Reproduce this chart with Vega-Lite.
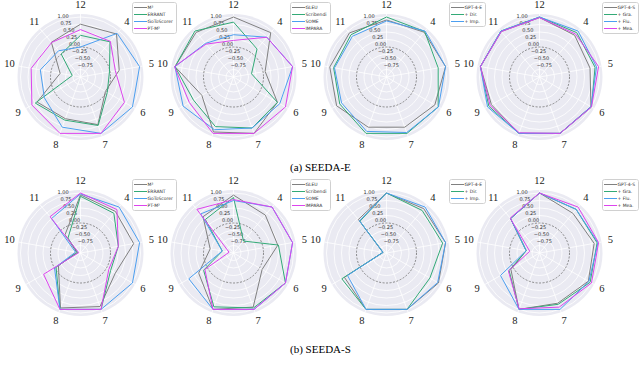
{
"$schema":"https://vega.github.io/schema/vega-lite/v6.json",
"autosize":{"type":"pad"},
"padding":{"left":4,"top":0,"right":0,"bottom":0},
"background":"white",
"bounds":"flush",
"columns":4,
"spacing":{"row":16,"column":0},
"config":{"view":{"stroke":null}},
"datasets":{
"frame":[{"k":"disc","v":1.1},
{"k":"grid","v":-0.75},{"k":"grid","v":-0.5},{"k":"grid","v":-0.25},{"k":"grid","v":0.25},{"k":"grid","v":0.5},{"k":"grid","v":0.75},{"k":"grid","v":1.0},
{"k":"dash","v":0},
{"k":"ax","a":"12"},{"k":"ax","a":"4"},{"k":"ax","a":"5"},{"k":"ax","a":"6"},{"k":"ax","a":"7"},{"k":"ax","a":"8"},{"k":"ax","a":"9"},{"k":"ax","a":"10"},{"k":"ax","a":"11"},
{"k":"rl","v":1.0,"txt":"1.00"},{"k":"rl","v":0.75,"txt":"0.75"},{"k":"rl","v":0.5,"txt":"0.50"},{"k":"rl","v":0.25,"txt":"0.25"},{"k":"rl","v":0,"txt":"0.00"},{"k":"rl","v":-0.25,"txt":"−0.25"},{"k":"rl","v":-0.5,"txt":"−0.50"},{"k":"rl","v":-0.75,"txt":"−0.75"}],
"ser":[
{"p":1,"s":"M²","a":"12","v":0.76},{"p":1,"s":"M²","a":"4","v":0.87},{"p":1,"s":"M²","a":"5","v":0.31},{"p":1,"s":"M²","a":"6","v":-0.04},{"p":1,"s":"M²","a":"7","v":0.69},{"p":1,"s":"M²","a":"8","v":0.48},{"p":1,"s":"M²","a":"9","v":0.67},{"p":1,"s":"M²","a":"10","v":-0.31},{"p":1,"s":"M²","a":"11","v":0.51},
{"p":1,"s":"ERRANT","a":"12","v":0.39},{"p":1,"s":"ERRANT","a":"4","v":0.53},{"p":1,"s":"ERRANT","a":"5","v":-0.02},{"p":1,"s":"ERRANT","a":"6","v":0.03},{"p":1,"s":"ERRANT","a":"7","v":0.72},{"p":1,"s":"ERRANT","a":"8","v":0.53},{"p":1,"s":"ERRANT","a":"9","v":0.74},{"p":1,"s":"ERRANT","a":"10","v":-0.72},{"p":1,"s":"ERRANT","a":"11","v":0.0},
{"p":1,"s":"GoToScorer","a":"12","v":0.0},{"p":1,"s":"GoToScorer","a":"4","v":0.9},{"p":1,"s":"GoToScorer","a":"5","v":1.0},{"p":1,"s":"GoToScorer","a":"6","v":1.0},{"p":1,"s":"GoToScorer","a":"7","v":1.0},{"p":1,"s":"GoToScorer","a":"8","v":0.78},{"p":1,"s":"GoToScorer","a":"9","v":0.39},{"p":1,"s":"GoToScorer","a":"10","v":0.36},{"p":1,"s":"GoToScorer","a":"11","v":0.14},
{"p":1,"s":"PT-M²","a":"12","v":0.58},{"p":1,"s":"PT-M²","a":"4","v":0.55},{"p":1,"s":"PT-M²","a":"5","v":0.18},{"p":1,"s":"PT-M²","a":"6","v":0.69},{"p":1,"s":"PT-M²","a":"7","v":1.0},{"p":1,"s":"PT-M²","a":"8","v":1.0},{"p":1,"s":"PT-M²","a":"9","v":0.87},{"p":1,"s":"PT-M²","a":"10","v":0.67},{"p":1,"s":"PT-M²","a":"11","v":0.5},
{"p":2,"s":"GLEU","a":"12","v":1.0},{"p":2,"s":"GLEU","a":"4","v":0.93},{"p":2,"s":"GLEU","a":"5","v":0.07},{"p":2,"s":"GLEU","a":"6","v":0.69},{"p":2,"s":"GLEU","a":"7","v":1.0},{"p":2,"s":"GLEU","a":"8","v":0.95},{"p":2,"s":"GLEU","a":"9","v":0.22},{"p":2,"s":"GLEU","a":"10","v":0.98},{"p":2,"s":"GLEU","a":"11","v":0.94},
{"p":2,"s":"Scribendi","a":"12","v":0.83},{"p":2,"s":"Scribendi","a":"4","v":0.22},{"p":2,"s":"Scribendi","a":"5","v":-0.39},{"p":2,"s":"Scribendi","a":"6","v":0.69},{"p":2,"s":"Scribendi","a":"7","v":0.81},{"p":2,"s":"Scribendi","a":"8","v":0.76},{"p":2,"s":"Scribendi","a":"9","v":0.54},{"p":2,"s":"Scribendi","a":"10","v":0.98},{"p":2,"s":"Scribendi","a":"11","v":1.0},
{"p":2,"s":"SOME","a":"12","v":0.41},{"p":2,"s":"SOME","a":"4","v":0.73},{"p":2,"s":"SOME","a":"5","v":1.0},{"p":2,"s":"SOME","a":"6","v":0.78},{"p":2,"s":"SOME","a":"7","v":0.81},{"p":2,"s":"SOME","a":"8","v":0.87},{"p":2,"s":"SOME","a":"9","v":0.94},{"p":2,"s":"SOME","a":"10","v":0.98},{"p":2,"s":"SOME","a":"11","v":0.46},
{"p":2,"s":"IMPARA","a":"12","v":0.22},{"p":2,"s":"IMPARA","a":"4","v":0.73},{"p":2,"s":"IMPARA","a":"5","v":1.0},{"p":2,"s":"IMPARA","a":"6","v":1.0},{"p":2,"s":"IMPARA","a":"7","v":1.0},{"p":2,"s":"IMPARA","a":"8","v":1.0},{"p":2,"s":"IMPARA","a":"9","v":0.7},{"p":2,"s":"IMPARA","a":"10","v":1.0},{"p":2,"s":"IMPARA","a":"11","v":0.43},
{"p":3,"s":"GPT-4-E","a":"12","v":0.9},{"p":3,"s":"GPT-4-E","a":"4","v":0.95},{"p":3,"s":"GPT-4-E","a":"5","v":1.0},{"p":3,"s":"GPT-4-E","a":"6","v":0.86},{"p":3,"s":"GPT-4-E","a":"7","v":0.78},{"p":3,"s":"GPT-4-E","a":"8","v":0.78},{"p":3,"s":"GPT-4-E","a":"9","v":0.92},{"p":3,"s":"GPT-4-E","a":"10","v":0.92},{"p":3,"s":"GPT-4-E","a":"11","v":0.92},
{"p":3,"s":"+ Dir.","a":"12","v":1.0},{"p":3,"s":"+ Dir.","a":"4","v":0.98},{"p":3,"s":"+ Dir.","a":"5","v":0.75},{"p":3,"s":"+ Dir.","a":"6","v":0.99},{"p":3,"s":"+ Dir.","a":"7","v":1.0},{"p":3,"s":"+ Dir.","a":"8","v":1.0},{"p":3,"s":"+ Dir.","a":"9","v":0.8},{"p":3,"s":"+ Dir.","a":"10","v":0.79},{"p":3,"s":"+ Dir.","a":"11","v":0.84},
{"p":3,"s":"+ Imp.","a":"12","v":0.87},{"p":3,"s":"+ Imp.","a":"4","v":1.0},{"p":3,"s":"+ Imp.","a":"5","v":1.0},{"p":3,"s":"+ Imp.","a":"6","v":1.0},{"p":3,"s":"+ Imp.","a":"7","v":0.97},{"p":3,"s":"+ Imp.","a":"8","v":0.93},{"p":3,"s":"+ Imp.","a":"9","v":0.73},{"p":3,"s":"+ Imp.","a":"10","v":0.76},{"p":3,"s":"+ Imp.","a":"11","v":0.77},
{"p":4,"s":"GPT-4-S","a":"12","v":0.98},{"p":4,"s":"GPT-4-S","a":"4","v":0.82},{"p":4,"s":"GPT-4-S","a":"5","v":0.71},{"p":4,"s":"GPT-4-S","a":"6","v":0.98},{"p":4,"s":"GPT-4-S","a":"7","v":1.0},{"p":4,"s":"GPT-4-S","a":"8","v":1.0},{"p":4,"s":"GPT-4-S","a":"9","v":0.85},{"p":4,"s":"GPT-4-S","a":"10","v":1.0},{"p":4,"s":"GPT-4-S","a":"11","v":0.98},
{"p":4,"s":"+ Gra.","a":"12","v":1.0},{"p":4,"s":"+ Gra.","a":"4","v":0.93},{"p":4,"s":"+ Gra.","a":"5","v":0.88},{"p":4,"s":"+ Gra.","a":"6","v":1.0},{"p":4,"s":"+ Gra.","a":"7","v":1.0},{"p":4,"s":"+ Gra.","a":"8","v":1.0},{"p":4,"s":"+ Gra.","a":"9","v":0.95},{"p":4,"s":"+ Gra.","a":"10","v":1.0},{"p":4,"s":"+ Gra.","a":"11","v":1.0},
{"p":4,"s":"+ Flu.","a":"12","v":1.0},{"p":4,"s":"+ Flu.","a":"4","v":1.0},{"p":4,"s":"+ Flu.","a":"5","v":0.93},{"p":4,"s":"+ Flu.","a":"6","v":0.98},{"p":4,"s":"+ Flu.","a":"7","v":1.0},{"p":4,"s":"+ Flu.","a":"8","v":1.0},{"p":4,"s":"+ Flu.","a":"9","v":1.0},{"p":4,"s":"+ Flu.","a":"10","v":1.0},{"p":4,"s":"+ Flu.","a":"11","v":1.0},
{"p":4,"s":"+ Mea.","a":"12","v":0.98},{"p":4,"s":"+ Mea.","a":"4","v":0.87},{"p":4,"s":"+ Mea.","a":"5","v":1.0},{"p":4,"s":"+ Mea.","a":"6","v":1.0},{"p":4,"s":"+ Mea.","a":"7","v":1.0},{"p":4,"s":"+ Mea.","a":"8","v":0.98},{"p":4,"s":"+ Mea.","a":"9","v":0.9},{"p":4,"s":"+ Mea.","a":"10","v":1.0},{"p":4,"s":"+ Mea.","a":"11","v":0.98},
{"p":5,"s":"M²","a":"12","v":0.94},{"p":5,"s":"M²","a":"4","v":0.81},{"p":5,"s":"M²","a":"5","v":0.8},{"p":5,"s":"M²","a":"6","v":0.34},{"p":5,"s":"M²","a":"7","v":0.9},{"p":5,"s":"M²","a":"8","v":0.95},{"p":5,"s":"M²","a":"9","v":-0.15},{"p":5,"s":"M²","a":"10","v":-0.87},{"p":5,"s":"M²","a":"11","v":-0.2},
{"p":5,"s":"ERRANT","a":"12","v":0.89},{"p":5,"s":"ERRANT","a":"4","v":0.73},{"p":5,"s":"ERRANT","a":"5","v":0.28},{"p":5,"s":"ERRANT","a":"6","v":0.16},{"p":5,"s":"ERRANT","a":"7","v":1.0},{"p":5,"s":"ERRANT","a":"8","v":1.0},{"p":5,"s":"ERRANT","a":"9","v":-0.06},{"p":5,"s":"ERRANT","a":"10","v":-0.9},{"p":5,"s":"ERRANT","a":"11","v":-0.35},
{"p":5,"s":"GoToScorer","a":"12","v":0.97},{"p":5,"s":"GoToScorer","a":"4","v":1.0},{"p":5,"s":"GoToScorer","a":"5","v":1.0},{"p":5,"s":"GoToScorer","a":"6","v":1.0},{"p":5,"s":"GoToScorer","a":"7","v":1.0},{"p":5,"s":"GoToScorer","a":"8","v":1.0},{"p":5,"s":"GoToScorer","a":"9","v":0.0},{"p":5,"s":"GoToScorer","a":"10","v":-0.83},{"p":5,"s":"GoToScorer","a":"11","v":0.5},
{"p":5,"s":"PT-M²","a":"12","v":1.0},{"p":5,"s":"PT-M²","a":"4","v":0.89},{"p":5,"s":"PT-M²","a":"5","v":0.28},{"p":5,"s":"PT-M²","a":"6","v":0.09},{"p":5,"s":"PT-M²","a":"7","v":1.0},{"p":5,"s":"PT-M²","a":"8","v":1.0},{"p":5,"s":"PT-M²","a":"9","v":0.42},{"p":5,"s":"PT-M²","a":"10","v":-0.94},{"p":5,"s":"PT-M²","a":"11","v":0.58},
{"p":6,"s":"GLEU","a":"12","v":0.93},{"p":6,"s":"GLEU","a":"4","v":0.65},{"p":6,"s":"GLEU","a":"5","v":0.5},{"p":6,"s":"GLEU","a":"6","v":0.1},{"p":6,"s":"GLEU","a":"7","v":0.92},{"p":6,"s":"GLEU","a":"8","v":1.0},{"p":6,"s":"GLEU","a":"9","v":0.34},{"p":6,"s":"GLEU","a":"10","v":-0.21},{"p":6,"s":"GLEU","a":"11","v":0.58},
{"p":6,"s":"Scribendi","a":"12","v":0.85},{"p":6,"s":"Scribendi","a":"4","v":-0.48},{"p":6,"s":"Scribendi","a":"5","v":0.52},{"p":6,"s":"Scribendi","a":"6","v":1.0},{"p":6,"s":"Scribendi","a":"7","v":0.95},{"p":6,"s":"Scribendi","a":"8","v":0.91},{"p":6,"s":"Scribendi","a":"9","v":0.15},{"p":6,"s":"Scribendi","a":"10","v":-0.62},{"p":6,"s":"Scribendi","a":"11","v":0.46},
{"p":6,"s":"SOME","a":"12","v":0.75},{"p":6,"s":"SOME","a":"4","v":1.0},{"p":6,"s":"SOME","a":"5","v":1.0},{"p":6,"s":"SOME","a":"6","v":1.0},{"p":6,"s":"SOME","a":"7","v":1.0},{"p":6,"s":"SOME","a":"8","v":1.0},{"p":6,"s":"SOME","a":"9","v":0.72},{"p":6,"s":"SOME","a":"10","v":-0.62},{"p":6,"s":"SOME","a":"11","v":0.7},
{"p":6,"s":"IMPARA","a":"12","v":0.78},{"p":6,"s":"IMPARA","a":"4","v":1.0},{"p":6,"s":"IMPARA","a":"5","v":1.0},{"p":6,"s":"IMPARA","a":"6","v":1.0},{"p":6,"s":"IMPARA","a":"7","v":1.0},{"p":6,"s":"IMPARA","a":"8","v":1.0},{"p":6,"s":"IMPARA","a":"9","v":0.1},{"p":6,"s":"IMPARA","a":"10","v":-0.85},{"p":6,"s":"IMPARA","a":"11","v":0.9},
{"p":7,"s":"GPT-4-E","a":"12","v":1.0},{"p":7,"s":"GPT-4-E","a":"4","v":0.93},{"p":7,"s":"GPT-4-E","a":"5","v":1.0},{"p":7,"s":"GPT-4-E","a":"6","v":1.0},{"p":7,"s":"GPT-4-E","a":"7","v":1.0},{"p":7,"s":"GPT-4-E","a":"8","v":1.0},{"p":7,"s":"GPT-4-E","a":"9","v":0.62},{"p":7,"s":"GPT-4-E","a":"10","v":-0.88},{"p":7,"s":"GPT-4-E","a":"11","v":0.46},
{"p":7,"s":"+ Dir.","a":"12","v":1.0},{"p":7,"s":"+ Dir.","a":"4","v":0.85},{"p":7,"s":"+ Dir.","a":"5","v":0.9},{"p":7,"s":"+ Dir.","a":"6","v":0.67},{"p":7,"s":"+ Dir.","a":"7","v":1.0},{"p":7,"s":"+ Dir.","a":"8","v":1.0},{"p":7,"s":"+ Dir.","a":"9","v":0.72},{"p":7,"s":"+ Dir.","a":"10","v":-0.88},{"p":7,"s":"+ Dir.","a":"11","v":0.38},
{"p":7,"s":"+ Imp.","a":"12","v":1.0},{"p":7,"s":"+ Imp.","a":"4","v":1.0},{"p":7,"s":"+ Imp.","a":"5","v":1.0},{"p":7,"s":"+ Imp.","a":"6","v":0.97},{"p":7,"s":"+ Imp.","a":"7","v":1.0},{"p":7,"s":"+ Imp.","a":"8","v":1.0},{"p":7,"s":"+ Imp.","a":"9","v":0.5},{"p":7,"s":"+ Imp.","a":"10","v":-0.88},{"p":7,"s":"+ Imp.","a":"11","v":0.4},
{"p":8,"s":"GPT-4-S","a":"12","v":1.0},{"p":8,"s":"GPT-4-S","a":"4","v":0.73},{"p":8,"s":"GPT-4-S","a":"5","v":0.85},{"p":8,"s":"GPT-4-S","a":"6","v":0.88},{"p":8,"s":"GPT-4-S","a":"7","v":0.78},{"p":8,"s":"GPT-4-S","a":"8","v":1.0},{"p":8,"s":"GPT-4-S","a":"9","v":0.1},{"p":8,"s":"GPT-4-S","a":"10","v":-0.55},{"p":8,"s":"GPT-4-S","a":"11","v":0.5},
{"p":8,"s":"+ Gra.","a":"12","v":1.0},{"p":8,"s":"+ Gra.","a":"4","v":0.9},{"p":8,"s":"+ Gra.","a":"5","v":0.95},{"p":8,"s":"+ Gra.","a":"6","v":0.95},{"p":8,"s":"+ Gra.","a":"7","v":0.82},{"p":8,"s":"+ Gra.","a":"8","v":1.0},{"p":8,"s":"+ Gra.","a":"9","v":0.17},{"p":8,"s":"+ Gra.","a":"10","v":-0.55},{"p":8,"s":"+ Gra.","a":"11","v":0.5},
{"p":8,"s":"+ Flu.","a":"12","v":1.0},{"p":8,"s":"+ Flu.","a":"4","v":0.9},{"p":8,"s":"+ Flu.","a":"5","v":0.98},{"p":8,"s":"+ Flu.","a":"6","v":0.9},{"p":8,"s":"+ Flu.","a":"7","v":1.0},{"p":8,"s":"+ Flu.","a":"8","v":1.0},{"p":8,"s":"+ Flu.","a":"9","v":0.5},{"p":8,"s":"+ Flu.","a":"10","v":-0.55},{"p":8,"s":"+ Flu.","a":"11","v":0.5},
{"p":8,"s":"+ Mea.","a":"12","v":1.0},{"p":8,"s":"+ Mea.","a":"4","v":1.0},{"p":8,"s":"+ Mea.","a":"5","v":1.0},{"p":8,"s":"+ Mea.","a":"6","v":1.0},{"p":8,"s":"+ Mea.","a":"7","v":0.92},{"p":8,"s":"+ Mea.","a":"8","v":0.98},{"p":8,"s":"+ Mea.","a":"9","v":0.2},{"p":8,"s":"+ Mea.","a":"10","v":-0.67},{"p":8,"s":"+ Mea.","a":"11","v":0.52}
]},
"resolve":{"scale":{"color":"independent","size":"independent","x":"independent","y":"independent"},"legend":{"color":"independent"}},
"concat":[
{"width":153,"height":160,"data":{"name":"frame"},
"encoding":{"x":{"field":"x","type":"quantitative","scale":{"domain":[-2.55,2.55],"nice":false,"zero":false},"axis":null},"y":{"field":"y","type":"quantitative","scale":{"domain":[-2.767,2.567],"nice":false,"zero":false},"axis":null}},
"layer":[
{"transform":[{"filter":"datum.k=='disc'"},{"calculate":"0","as":"x"},{"calculate":"0","as":"y"},{"calculate":"datum.v+1","as":"r"}],"mark":{"type":"point","shape":"circle","filled":true,"color":"#eaeaf2","opacity":1,"strokeWidth":0},"encoding":{"size":{"field":"r","type":"quantitative","scale":{"type":"pow","exponent":2,"domain":[0,2.1],"range":[0,15876]},"legend":null}}},
{"transform":[{"filter":"datum.k=='grid'"},{"calculate":"0","as":"x"},{"calculate":"0","as":"y"},{"calculate":"datum.v+1","as":"r"}],"mark":{"type":"point","shape":"circle","filled":false,"color":"#ffffff","opacity":1,"strokeWidth":0.8},"encoding":{"size":{"field":"r","type":"quantitative","scale":{"type":"pow","exponent":2,"domain":[0,2.1],"range":[0,15876]},"legend":null}}},
{"transform":[{"filter":"datum.k=='ax'"},{"calculate":"indexof(['12','4','5','6','7','8','9','10','11'],datum.a)*40*PI/180","as":"t"},{"calculate":"0","as":"x"},{"calculate":"0","as":"y"},{"calculate":"2.1*sin(datum.t)","as":"x2"},{"calculate":"2.1*cos(datum.t)","as":"y2"}],"mark":{"type":"rule","color":"#ffffff","strokeWidth":0.8},"encoding":{"x2":{"field":"x2"},"y2":{"field":"y2"}}},
{"transform":[{"filter":"datum.k=='dash'"},{"calculate":"0","as":"x"},{"calculate":"0","as":"y"},{"calculate":"datum.v+1","as":"r"}],"mark":{"type":"point","shape":"circle","filled":false,"color":"#6f6f6f","opacity":1,"strokeWidth":0.8,"strokeDash":[2,1.5]},"encoding":{"size":{"field":"r","type":"quantitative","scale":{"type":"pow","exponent":2,"domain":[0,2.1],"range":[0,15876]},"legend":null}}},
{"transform":[{"filter":"datum.k=='rl'"},{"calculate":"-(datum.v+1)*0.3827","as":"x"},{"calculate":"(datum.v+1)*0.9239","as":"y"}],"mark":{"type":"text","align":"left","baseline":"bottom","dy":-2.5,"font":"DejaVu Sans","fontSize":5,"color":"#333333"},"encoding":{"text":{"field":"txt"}}},
{"data":{"name":"ser"},"transform":[{"filter":"datum.p==1"},{"calculate":"indexof(['12','4','5','6','7','8','9','10','11'],datum.a)*40*PI/180","as":"t"},{"calculate":"(datum.v+1)*sin(datum.t)","as":"x"},{"calculate":"(datum.v+1)*cos(datum.t)","as":"y"}],"mark":{"type":"line","interpolate":"linear-closed","strokeWidth":1},"encoding":{"order":{"field":"t","type":"quantitative"},"color":{"field":"s","type":"nominal","scale":{"domain":["M²","ERRANT","GoToScorer","PT-M²"],"range":["#808080","#33aa77","#4c9ff0","#dd44ee"]},"legend":{"orient":"none","legendX":128,"legendY":2,"title":null,"symbolType":"M-2.6,0H2.6","symbolSize":25,"symbolStrokeWidth":1,"symbolOffset":3,"labelOffset":4,"labelFontSize":4.5,"labelFont":"DejaVu Sans","labelColor":"#333333","fillColor":"#ffffff","strokeColor":"#d0d0d0","padding":2.5,"rowPadding":2,"cornerRadius":2}}}},
{"transform":[{"filter":"datum.k=='ax'"},{"calculate":"indexof(['12','4','5','6','7','8','9','10','11'],datum.a)*40*PI/180","as":"t"},{"calculate":"2.4*sin(datum.t)","as":"x"},{"calculate":"2.4*cos(datum.t)","as":"y"}],"mark":{"type":"text","font":"Liberation Serif","fontSize":10.5,"color":"#222222","align":"center","baseline":"middle"},"encoding":{"text":{"field":"a"}}}
]},
{"width":153,"height":160,"data":{"name":"frame"},
"encoding":{"x":{"field":"x","type":"quantitative","scale":{"domain":[-2.55,2.55],"nice":false,"zero":false},"axis":null},"y":{"field":"y","type":"quantitative","scale":{"domain":[-2.767,2.567],"nice":false,"zero":false},"axis":null}},
"layer":[
{"transform":[{"filter":"datum.k=='disc'"},{"calculate":"0","as":"x"},{"calculate":"0","as":"y"},{"calculate":"datum.v+1","as":"r"}],"mark":{"type":"point","shape":"circle","filled":true,"color":"#eaeaf2","opacity":1,"strokeWidth":0},"encoding":{"size":{"field":"r","type":"quantitative","scale":{"type":"pow","exponent":2,"domain":[0,2.1],"range":[0,15876]},"legend":null}}},
{"transform":[{"filter":"datum.k=='grid'"},{"calculate":"0","as":"x"},{"calculate":"0","as":"y"},{"calculate":"datum.v+1","as":"r"}],"mark":{"type":"point","shape":"circle","filled":false,"color":"#ffffff","opacity":1,"strokeWidth":0.8},"encoding":{"size":{"field":"r","type":"quantitative","scale":{"type":"pow","exponent":2,"domain":[0,2.1],"range":[0,15876]},"legend":null}}},
{"transform":[{"filter":"datum.k=='ax'"},{"calculate":"indexof(['12','4','5','6','7','8','9','10','11'],datum.a)*40*PI/180","as":"t"},{"calculate":"0","as":"x"},{"calculate":"0","as":"y"},{"calculate":"2.1*sin(datum.t)","as":"x2"},{"calculate":"2.1*cos(datum.t)","as":"y2"}],"mark":{"type":"rule","color":"#ffffff","strokeWidth":0.8},"encoding":{"x2":{"field":"x2"},"y2":{"field":"y2"}}},
{"transform":[{"filter":"datum.k=='dash'"},{"calculate":"0","as":"x"},{"calculate":"0","as":"y"},{"calculate":"datum.v+1","as":"r"}],"mark":{"type":"point","shape":"circle","filled":false,"color":"#6f6f6f","opacity":1,"strokeWidth":0.8,"strokeDash":[2,1.5]},"encoding":{"size":{"field":"r","type":"quantitative","scale":{"type":"pow","exponent":2,"domain":[0,2.1],"range":[0,15876]},"legend":null}}},
{"transform":[{"filter":"datum.k=='rl'"},{"calculate":"-(datum.v+1)*0.3827","as":"x"},{"calculate":"(datum.v+1)*0.9239","as":"y"}],"mark":{"type":"text","align":"left","baseline":"bottom","dy":-2.5,"font":"DejaVu Sans","fontSize":5,"color":"#333333"},"encoding":{"text":{"field":"txt"}}},
{"data":{"name":"ser"},"transform":[{"filter":"datum.p==2"},{"calculate":"indexof(['12','4','5','6','7','8','9','10','11'],datum.a)*40*PI/180","as":"t"},{"calculate":"(datum.v+1)*sin(datum.t)","as":"x"},{"calculate":"(datum.v+1)*cos(datum.t)","as":"y"}],"mark":{"type":"line","interpolate":"linear-closed","strokeWidth":1},"encoding":{"order":{"field":"t","type":"quantitative"},"color":{"field":"s","type":"nominal","scale":{"domain":["GLEU","Scribendi","SOME","IMPARA"],"range":["#808080","#33aa77","#4c9ff0","#dd44ee"]},"legend":{"orient":"none","legendX":133,"legendY":2,"title":null,"symbolType":"M-2.6,0H2.6","symbolSize":25,"symbolStrokeWidth":1,"symbolOffset":3,"labelOffset":4,"labelFontSize":4.5,"labelFont":"DejaVu Sans","labelColor":"#333333","fillColor":"#ffffff","strokeColor":"#d0d0d0","padding":2.5,"rowPadding":2,"cornerRadius":2}}}},
{"transform":[{"filter":"datum.k=='ax'"},{"calculate":"indexof(['12','4','5','6','7','8','9','10','11'],datum.a)*40*PI/180","as":"t"},{"calculate":"2.4*sin(datum.t)","as":"x"},{"calculate":"2.4*cos(datum.t)","as":"y"}],"mark":{"type":"text","font":"Liberation Serif","fontSize":10.5,"color":"#222222","align":"center","baseline":"middle"},"encoding":{"text":{"field":"a"}}}
]},
{"width":153,"height":160,"data":{"name":"frame"},
"title":{"text":"(a) SEEDA-E","orient":"bottom","anchor":"start","dx":-20,"offset":2,"font":"Liberation Serif","fontSize":11,"fontWeight":"normal","color":"#000000"},
"encoding":{"x":{"field":"x","type":"quantitative","scale":{"domain":[-2.55,2.55],"nice":false,"zero":false},"axis":null},"y":{"field":"y","type":"quantitative","scale":{"domain":[-2.767,2.567],"nice":false,"zero":false},"axis":null}},
"layer":[
{"transform":[{"filter":"datum.k=='disc'"},{"calculate":"0","as":"x"},{"calculate":"0","as":"y"},{"calculate":"datum.v+1","as":"r"}],"mark":{"type":"point","shape":"circle","filled":true,"color":"#eaeaf2","opacity":1,"strokeWidth":0},"encoding":{"size":{"field":"r","type":"quantitative","scale":{"type":"pow","exponent":2,"domain":[0,2.1],"range":[0,15876]},"legend":null}}},
{"transform":[{"filter":"datum.k=='grid'"},{"calculate":"0","as":"x"},{"calculate":"0","as":"y"},{"calculate":"datum.v+1","as":"r"}],"mark":{"type":"point","shape":"circle","filled":false,"color":"#ffffff","opacity":1,"strokeWidth":0.8},"encoding":{"size":{"field":"r","type":"quantitative","scale":{"type":"pow","exponent":2,"domain":[0,2.1],"range":[0,15876]},"legend":null}}},
{"transform":[{"filter":"datum.k=='ax'"},{"calculate":"indexof(['12','4','5','6','7','8','9','10','11'],datum.a)*40*PI/180","as":"t"},{"calculate":"0","as":"x"},{"calculate":"0","as":"y"},{"calculate":"2.1*sin(datum.t)","as":"x2"},{"calculate":"2.1*cos(datum.t)","as":"y2"}],"mark":{"type":"rule","color":"#ffffff","strokeWidth":0.8},"encoding":{"x2":{"field":"x2"},"y2":{"field":"y2"}}},
{"transform":[{"filter":"datum.k=='dash'"},{"calculate":"0","as":"x"},{"calculate":"0","as":"y"},{"calculate":"datum.v+1","as":"r"}],"mark":{"type":"point","shape":"circle","filled":false,"color":"#6f6f6f","opacity":1,"strokeWidth":0.8,"strokeDash":[2,1.5]},"encoding":{"size":{"field":"r","type":"quantitative","scale":{"type":"pow","exponent":2,"domain":[0,2.1],"range":[0,15876]},"legend":null}}},
{"transform":[{"filter":"datum.k=='rl'"},{"calculate":"-(datum.v+1)*0.3827","as":"x"},{"calculate":"(datum.v+1)*0.9239","as":"y"}],"mark":{"type":"text","align":"left","baseline":"bottom","dy":-2.5,"font":"DejaVu Sans","fontSize":5,"color":"#333333"},"encoding":{"text":{"field":"txt"}}},
{"data":{"name":"ser"},"transform":[{"filter":"datum.p==3"},{"calculate":"indexof(['12','4','5','6','7','8','9','10','11'],datum.a)*40*PI/180","as":"t"},{"calculate":"(datum.v+1)*sin(datum.t)","as":"x"},{"calculate":"(datum.v+1)*cos(datum.t)","as":"y"}],"mark":{"type":"line","interpolate":"linear-closed","strokeWidth":1},"encoding":{"order":{"field":"t","type":"quantitative"},"color":{"field":"s","type":"nominal","scale":{"domain":["GPT-4-E","+ Dir.","+ Imp."],"range":["#808080","#33aa77","#4c9ff0"]},"legend":{"orient":"none","legendX":139,"legendY":2,"title":null,"symbolType":"M-2.6,0H2.6","symbolSize":25,"symbolStrokeWidth":1,"symbolOffset":3,"labelOffset":4,"labelFontSize":4.5,"labelFont":"DejaVu Sans","labelColor":"#333333","fillColor":"#ffffff","strokeColor":"#d0d0d0","padding":2.5,"rowPadding":2,"cornerRadius":2}}}},
{"transform":[{"filter":"datum.k=='ax'"},{"calculate":"indexof(['12','4','5','6','7','8','9','10','11'],datum.a)*40*PI/180","as":"t"},{"calculate":"2.4*sin(datum.t)","as":"x"},{"calculate":"2.4*cos(datum.t)","as":"y"}],"mark":{"type":"text","font":"Liberation Serif","fontSize":10.5,"color":"#222222","align":"center","baseline":"middle"},"encoding":{"text":{"field":"a"}}}
]},
{"width":153,"height":160,"data":{"name":"frame"},
"encoding":{"x":{"field":"x","type":"quantitative","scale":{"domain":[-2.55,2.55],"nice":false,"zero":false},"axis":null},"y":{"field":"y","type":"quantitative","scale":{"domain":[-2.767,2.567],"nice":false,"zero":false},"axis":null}},
"layer":[
{"transform":[{"filter":"datum.k=='disc'"},{"calculate":"0","as":"x"},{"calculate":"0","as":"y"},{"calculate":"datum.v+1","as":"r"}],"mark":{"type":"point","shape":"circle","filled":true,"color":"#eaeaf2","opacity":1,"strokeWidth":0},"encoding":{"size":{"field":"r","type":"quantitative","scale":{"type":"pow","exponent":2,"domain":[0,2.1],"range":[0,15876]},"legend":null}}},
{"transform":[{"filter":"datum.k=='grid'"},{"calculate":"0","as":"x"},{"calculate":"0","as":"y"},{"calculate":"datum.v+1","as":"r"}],"mark":{"type":"point","shape":"circle","filled":false,"color":"#ffffff","opacity":1,"strokeWidth":0.8},"encoding":{"size":{"field":"r","type":"quantitative","scale":{"type":"pow","exponent":2,"domain":[0,2.1],"range":[0,15876]},"legend":null}}},
{"transform":[{"filter":"datum.k=='ax'"},{"calculate":"indexof(['12','4','5','6','7','8','9','10','11'],datum.a)*40*PI/180","as":"t"},{"calculate":"0","as":"x"},{"calculate":"0","as":"y"},{"calculate":"2.1*sin(datum.t)","as":"x2"},{"calculate":"2.1*cos(datum.t)","as":"y2"}],"mark":{"type":"rule","color":"#ffffff","strokeWidth":0.8},"encoding":{"x2":{"field":"x2"},"y2":{"field":"y2"}}},
{"transform":[{"filter":"datum.k=='dash'"},{"calculate":"0","as":"x"},{"calculate":"0","as":"y"},{"calculate":"datum.v+1","as":"r"}],"mark":{"type":"point","shape":"circle","filled":false,"color":"#6f6f6f","opacity":1,"strokeWidth":0.8,"strokeDash":[2,1.5]},"encoding":{"size":{"field":"r","type":"quantitative","scale":{"type":"pow","exponent":2,"domain":[0,2.1],"range":[0,15876]},"legend":null}}},
{"transform":[{"filter":"datum.k=='rl'"},{"calculate":"-(datum.v+1)*0.3827","as":"x"},{"calculate":"(datum.v+1)*0.9239","as":"y"}],"mark":{"type":"text","align":"left","baseline":"bottom","dy":-2.5,"font":"DejaVu Sans","fontSize":5,"color":"#333333"},"encoding":{"text":{"field":"txt"}}},
{"data":{"name":"ser"},"transform":[{"filter":"datum.p==4"},{"calculate":"indexof(['12','4','5','6','7','8','9','10','11'],datum.a)*40*PI/180","as":"t"},{"calculate":"(datum.v+1)*sin(datum.t)","as":"x"},{"calculate":"(datum.v+1)*cos(datum.t)","as":"y"}],"mark":{"type":"line","interpolate":"linear-closed","strokeWidth":1},"encoding":{"order":{"field":"t","type":"quantitative"},"color":{"field":"s","type":"nominal","scale":{"domain":["GPT-4-S","+ Gra.","+ Flu.","+ Mea."],"range":["#808080","#33aa77","#4c9ff0","#dd44ee"]},"legend":{"orient":"none","legendX":139,"legendY":2,"title":null,"symbolType":"M-2.6,0H2.6","symbolSize":25,"symbolStrokeWidth":1,"symbolOffset":3,"labelOffset":4,"labelFontSize":4.5,"labelFont":"DejaVu Sans","labelColor":"#333333","fillColor":"#ffffff","strokeColor":"#d0d0d0","padding":2.5,"rowPadding":2,"cornerRadius":2}}}},
{"transform":[{"filter":"datum.k=='ax'"},{"calculate":"indexof(['12','4','5','6','7','8','9','10','11'],datum.a)*40*PI/180","as":"t"},{"calculate":"2.4*sin(datum.t)","as":"x"},{"calculate":"2.4*cos(datum.t)","as":"y"}],"mark":{"type":"text","font":"Liberation Serif","fontSize":10.5,"color":"#222222","align":"center","baseline":"middle"},"encoding":{"text":{"field":"a"}}}
]},
{"width":153,"height":160,"data":{"name":"frame"},
"encoding":{"x":{"field":"x","type":"quantitative","scale":{"domain":[-2.55,2.55],"nice":false,"zero":false},"axis":null},"y":{"field":"y","type":"quantitative","scale":{"domain":[-2.767,2.567],"nice":false,"zero":false},"axis":null}},
"layer":[
{"transform":[{"filter":"datum.k=='disc'"},{"calculate":"0","as":"x"},{"calculate":"0","as":"y"},{"calculate":"datum.v+1","as":"r"}],"mark":{"type":"point","shape":"circle","filled":true,"color":"#eaeaf2","opacity":1,"strokeWidth":0},"encoding":{"size":{"field":"r","type":"quantitative","scale":{"type":"pow","exponent":2,"domain":[0,2.1],"range":[0,15876]},"legend":null}}},
{"transform":[{"filter":"datum.k=='grid'"},{"calculate":"0","as":"x"},{"calculate":"0","as":"y"},{"calculate":"datum.v+1","as":"r"}],"mark":{"type":"point","shape":"circle","filled":false,"color":"#ffffff","opacity":1,"strokeWidth":0.8},"encoding":{"size":{"field":"r","type":"quantitative","scale":{"type":"pow","exponent":2,"domain":[0,2.1],"range":[0,15876]},"legend":null}}},
{"transform":[{"filter":"datum.k=='ax'"},{"calculate":"indexof(['12','4','5','6','7','8','9','10','11'],datum.a)*40*PI/180","as":"t"},{"calculate":"0","as":"x"},{"calculate":"0","as":"y"},{"calculate":"2.1*sin(datum.t)","as":"x2"},{"calculate":"2.1*cos(datum.t)","as":"y2"}],"mark":{"type":"rule","color":"#ffffff","strokeWidth":0.8},"encoding":{"x2":{"field":"x2"},"y2":{"field":"y2"}}},
{"transform":[{"filter":"datum.k=='dash'"},{"calculate":"0","as":"x"},{"calculate":"0","as":"y"},{"calculate":"datum.v+1","as":"r"}],"mark":{"type":"point","shape":"circle","filled":false,"color":"#6f6f6f","opacity":1,"strokeWidth":0.8,"strokeDash":[2,1.5]},"encoding":{"size":{"field":"r","type":"quantitative","scale":{"type":"pow","exponent":2,"domain":[0,2.1],"range":[0,15876]},"legend":null}}},
{"transform":[{"filter":"datum.k=='rl'"},{"calculate":"-(datum.v+1)*0.3827","as":"x"},{"calculate":"(datum.v+1)*0.9239","as":"y"}],"mark":{"type":"text","align":"left","baseline":"bottom","dy":-2.5,"font":"DejaVu Sans","fontSize":5,"color":"#333333"},"encoding":{"text":{"field":"txt"}}},
{"data":{"name":"ser"},"transform":[{"filter":"datum.p==5"},{"calculate":"indexof(['12','4','5','6','7','8','9','10','11'],datum.a)*40*PI/180","as":"t"},{"calculate":"(datum.v+1)*sin(datum.t)","as":"x"},{"calculate":"(datum.v+1)*cos(datum.t)","as":"y"}],"mark":{"type":"line","interpolate":"linear-closed","strokeWidth":1},"encoding":{"order":{"field":"t","type":"quantitative"},"color":{"field":"s","type":"nominal","scale":{"domain":["M²","ERRANT","GoToScorer","PT-M²"],"range":["#808080","#33aa77","#4c9ff0","#dd44ee"]},"legend":{"orient":"none","legendX":128,"legendY":3,"title":null,"symbolType":"M-2.6,0H2.6","symbolSize":25,"symbolStrokeWidth":1,"symbolOffset":3,"labelOffset":4,"labelFontSize":4.5,"labelFont":"DejaVu Sans","labelColor":"#333333","fillColor":"#ffffff","strokeColor":"#d0d0d0","padding":2.5,"rowPadding":2,"cornerRadius":2}}}},
{"transform":[{"filter":"datum.k=='ax'"},{"calculate":"indexof(['12','4','5','6','7','8','9','10','11'],datum.a)*40*PI/180","as":"t"},{"calculate":"2.4*sin(datum.t)","as":"x"},{"calculate":"2.4*cos(datum.t)","as":"y"}],"mark":{"type":"text","font":"Liberation Serif","fontSize":10.5,"color":"#222222","align":"center","baseline":"middle"},"encoding":{"text":{"field":"a"}}}
]},
{"width":153,"height":160,"data":{"name":"frame"},
"encoding":{"x":{"field":"x","type":"quantitative","scale":{"domain":[-2.55,2.55],"nice":false,"zero":false},"axis":null},"y":{"field":"y","type":"quantitative","scale":{"domain":[-2.767,2.567],"nice":false,"zero":false},"axis":null}},
"layer":[
{"transform":[{"filter":"datum.k=='disc'"},{"calculate":"0","as":"x"},{"calculate":"0","as":"y"},{"calculate":"datum.v+1","as":"r"}],"mark":{"type":"point","shape":"circle","filled":true,"color":"#eaeaf2","opacity":1,"strokeWidth":0},"encoding":{"size":{"field":"r","type":"quantitative","scale":{"type":"pow","exponent":2,"domain":[0,2.1],"range":[0,15876]},"legend":null}}},
{"transform":[{"filter":"datum.k=='grid'"},{"calculate":"0","as":"x"},{"calculate":"0","as":"y"},{"calculate":"datum.v+1","as":"r"}],"mark":{"type":"point","shape":"circle","filled":false,"color":"#ffffff","opacity":1,"strokeWidth":0.8},"encoding":{"size":{"field":"r","type":"quantitative","scale":{"type":"pow","exponent":2,"domain":[0,2.1],"range":[0,15876]},"legend":null}}},
{"transform":[{"filter":"datum.k=='ax'"},{"calculate":"indexof(['12','4','5','6','7','8','9','10','11'],datum.a)*40*PI/180","as":"t"},{"calculate":"0","as":"x"},{"calculate":"0","as":"y"},{"calculate":"2.1*sin(datum.t)","as":"x2"},{"calculate":"2.1*cos(datum.t)","as":"y2"}],"mark":{"type":"rule","color":"#ffffff","strokeWidth":0.8},"encoding":{"x2":{"field":"x2"},"y2":{"field":"y2"}}},
{"transform":[{"filter":"datum.k=='dash'"},{"calculate":"0","as":"x"},{"calculate":"0","as":"y"},{"calculate":"datum.v+1","as":"r"}],"mark":{"type":"point","shape":"circle","filled":false,"color":"#6f6f6f","opacity":1,"strokeWidth":0.8,"strokeDash":[2,1.5]},"encoding":{"size":{"field":"r","type":"quantitative","scale":{"type":"pow","exponent":2,"domain":[0,2.1],"range":[0,15876]},"legend":null}}},
{"transform":[{"filter":"datum.k=='rl'"},{"calculate":"-(datum.v+1)*0.3827","as":"x"},{"calculate":"(datum.v+1)*0.9239","as":"y"}],"mark":{"type":"text","align":"left","baseline":"bottom","dy":-2.5,"font":"DejaVu Sans","fontSize":5,"color":"#333333"},"encoding":{"text":{"field":"txt"}}},
{"data":{"name":"ser"},"transform":[{"filter":"datum.p==6"},{"calculate":"indexof(['12','4','5','6','7','8','9','10','11'],datum.a)*40*PI/180","as":"t"},{"calculate":"(datum.v+1)*sin(datum.t)","as":"x"},{"calculate":"(datum.v+1)*cos(datum.t)","as":"y"}],"mark":{"type":"line","interpolate":"linear-closed","strokeWidth":1},"encoding":{"order":{"field":"t","type":"quantitative"},"color":{"field":"s","type":"nominal","scale":{"domain":["GLEU","Scribendi","SOME","IMPARA"],"range":["#808080","#33aa77","#4c9ff0","#dd44ee"]},"legend":{"orient":"none","legendX":133,"legendY":3,"title":null,"symbolType":"M-2.6,0H2.6","symbolSize":25,"symbolStrokeWidth":1,"symbolOffset":3,"labelOffset":4,"labelFontSize":4.5,"labelFont":"DejaVu Sans","labelColor":"#333333","fillColor":"#ffffff","strokeColor":"#d0d0d0","padding":2.5,"rowPadding":2,"cornerRadius":2}}}},
{"transform":[{"filter":"datum.k=='ax'"},{"calculate":"indexof(['12','4','5','6','7','8','9','10','11'],datum.a)*40*PI/180","as":"t"},{"calculate":"2.4*sin(datum.t)","as":"x"},{"calculate":"2.4*cos(datum.t)","as":"y"}],"mark":{"type":"text","font":"Liberation Serif","fontSize":10.5,"color":"#222222","align":"center","baseline":"middle"},"encoding":{"text":{"field":"a"}}}
]},
{"width":153,"height":160,"data":{"name":"frame"},
"title":{"text":"(b) SEEDA-S","orient":"bottom","anchor":"start","dx":-20,"offset":8,"font":"Liberation Serif","fontSize":11,"fontWeight":"normal","color":"#000000"},
"encoding":{"x":{"field":"x","type":"quantitative","scale":{"domain":[-2.55,2.55],"nice":false,"zero":false},"axis":null},"y":{"field":"y","type":"quantitative","scale":{"domain":[-2.767,2.567],"nice":false,"zero":false},"axis":null}},
"layer":[
{"transform":[{"filter":"datum.k=='disc'"},{"calculate":"0","as":"x"},{"calculate":"0","as":"y"},{"calculate":"datum.v+1","as":"r"}],"mark":{"type":"point","shape":"circle","filled":true,"color":"#eaeaf2","opacity":1,"strokeWidth":0},"encoding":{"size":{"field":"r","type":"quantitative","scale":{"type":"pow","exponent":2,"domain":[0,2.1],"range":[0,15876]},"legend":null}}},
{"transform":[{"filter":"datum.k=='grid'"},{"calculate":"0","as":"x"},{"calculate":"0","as":"y"},{"calculate":"datum.v+1","as":"r"}],"mark":{"type":"point","shape":"circle","filled":false,"color":"#ffffff","opacity":1,"strokeWidth":0.8},"encoding":{"size":{"field":"r","type":"quantitative","scale":{"type":"pow","exponent":2,"domain":[0,2.1],"range":[0,15876]},"legend":null}}},
{"transform":[{"filter":"datum.k=='ax'"},{"calculate":"indexof(['12','4','5','6','7','8','9','10','11'],datum.a)*40*PI/180","as":"t"},{"calculate":"0","as":"x"},{"calculate":"0","as":"y"},{"calculate":"2.1*sin(datum.t)","as":"x2"},{"calculate":"2.1*cos(datum.t)","as":"y2"}],"mark":{"type":"rule","color":"#ffffff","strokeWidth":0.8},"encoding":{"x2":{"field":"x2"},"y2":{"field":"y2"}}},
{"transform":[{"filter":"datum.k=='dash'"},{"calculate":"0","as":"x"},{"calculate":"0","as":"y"},{"calculate":"datum.v+1","as":"r"}],"mark":{"type":"point","shape":"circle","filled":false,"color":"#6f6f6f","opacity":1,"strokeWidth":0.8,"strokeDash":[2,1.5]},"encoding":{"size":{"field":"r","type":"quantitative","scale":{"type":"pow","exponent":2,"domain":[0,2.1],"range":[0,15876]},"legend":null}}},
{"transform":[{"filter":"datum.k=='rl'"},{"calculate":"-(datum.v+1)*0.3827","as":"x"},{"calculate":"(datum.v+1)*0.9239","as":"y"}],"mark":{"type":"text","align":"left","baseline":"bottom","dy":-2.5,"font":"DejaVu Sans","fontSize":5,"color":"#333333"},"encoding":{"text":{"field":"txt"}}},
{"data":{"name":"ser"},"transform":[{"filter":"datum.p==7"},{"calculate":"indexof(['12','4','5','6','7','8','9','10','11'],datum.a)*40*PI/180","as":"t"},{"calculate":"(datum.v+1)*sin(datum.t)","as":"x"},{"calculate":"(datum.v+1)*cos(datum.t)","as":"y"}],"mark":{"type":"line","interpolate":"linear-closed","strokeWidth":1},"encoding":{"order":{"field":"t","type":"quantitative"},"color":{"field":"s","type":"nominal","scale":{"domain":["GPT-4-E","+ Dir.","+ Imp."],"range":["#808080","#33aa77","#4c9ff0"]},"legend":{"orient":"none","legendX":139,"legendY":3,"title":null,"symbolType":"M-2.6,0H2.6","symbolSize":25,"symbolStrokeWidth":1,"symbolOffset":3,"labelOffset":4,"labelFontSize":4.5,"labelFont":"DejaVu Sans","labelColor":"#333333","fillColor":"#ffffff","strokeColor":"#d0d0d0","padding":2.5,"rowPadding":2,"cornerRadius":2}}}},
{"transform":[{"filter":"datum.k=='ax'"},{"calculate":"indexof(['12','4','5','6','7','8','9','10','11'],datum.a)*40*PI/180","as":"t"},{"calculate":"2.4*sin(datum.t)","as":"x"},{"calculate":"2.4*cos(datum.t)","as":"y"}],"mark":{"type":"text","font":"Liberation Serif","fontSize":10.5,"color":"#222222","align":"center","baseline":"middle"},"encoding":{"text":{"field":"a"}}}
]},
{"width":153,"height":160,"data":{"name":"frame"},
"encoding":{"x":{"field":"x","type":"quantitative","scale":{"domain":[-2.55,2.55],"nice":false,"zero":false},"axis":null},"y":{"field":"y","type":"quantitative","scale":{"domain":[-2.767,2.567],"nice":false,"zero":false},"axis":null}},
"layer":[
{"transform":[{"filter":"datum.k=='disc'"},{"calculate":"0","as":"x"},{"calculate":"0","as":"y"},{"calculate":"datum.v+1","as":"r"}],"mark":{"type":"point","shape":"circle","filled":true,"color":"#eaeaf2","opacity":1,"strokeWidth":0},"encoding":{"size":{"field":"r","type":"quantitative","scale":{"type":"pow","exponent":2,"domain":[0,2.1],"range":[0,15876]},"legend":null}}},
{"transform":[{"filter":"datum.k=='grid'"},{"calculate":"0","as":"x"},{"calculate":"0","as":"y"},{"calculate":"datum.v+1","as":"r"}],"mark":{"type":"point","shape":"circle","filled":false,"color":"#ffffff","opacity":1,"strokeWidth":0.8},"encoding":{"size":{"field":"r","type":"quantitative","scale":{"type":"pow","exponent":2,"domain":[0,2.1],"range":[0,15876]},"legend":null}}},
{"transform":[{"filter":"datum.k=='ax'"},{"calculate":"indexof(['12','4','5','6','7','8','9','10','11'],datum.a)*40*PI/180","as":"t"},{"calculate":"0","as":"x"},{"calculate":"0","as":"y"},{"calculate":"2.1*sin(datum.t)","as":"x2"},{"calculate":"2.1*cos(datum.t)","as":"y2"}],"mark":{"type":"rule","color":"#ffffff","strokeWidth":0.8},"encoding":{"x2":{"field":"x2"},"y2":{"field":"y2"}}},
{"transform":[{"filter":"datum.k=='dash'"},{"calculate":"0","as":"x"},{"calculate":"0","as":"y"},{"calculate":"datum.v+1","as":"r"}],"mark":{"type":"point","shape":"circle","filled":false,"color":"#6f6f6f","opacity":1,"strokeWidth":0.8,"strokeDash":[2,1.5]},"encoding":{"size":{"field":"r","type":"quantitative","scale":{"type":"pow","exponent":2,"domain":[0,2.1],"range":[0,15876]},"legend":null}}},
{"transform":[{"filter":"datum.k=='rl'"},{"calculate":"-(datum.v+1)*0.3827","as":"x"},{"calculate":"(datum.v+1)*0.9239","as":"y"}],"mark":{"type":"text","align":"left","baseline":"bottom","dy":-2.5,"font":"DejaVu Sans","fontSize":5,"color":"#333333"},"encoding":{"text":{"field":"txt"}}},
{"data":{"name":"ser"},"transform":[{"filter":"datum.p==8"},{"calculate":"indexof(['12','4','5','6','7','8','9','10','11'],datum.a)*40*PI/180","as":"t"},{"calculate":"(datum.v+1)*sin(datum.t)","as":"x"},{"calculate":"(datum.v+1)*cos(datum.t)","as":"y"}],"mark":{"type":"line","interpolate":"linear-closed","strokeWidth":1},"encoding":{"order":{"field":"t","type":"quantitative"},"color":{"field":"s","type":"nominal","scale":{"domain":["GPT-4-S","+ Gra.","+ Flu.","+ Mea."],"range":["#808080","#33aa77","#4c9ff0","#dd44ee"]},"legend":{"orient":"none","legendX":139,"legendY":3,"title":null,"symbolType":"M-2.6,0H2.6","symbolSize":25,"symbolStrokeWidth":1,"symbolOffset":3,"labelOffset":4,"labelFontSize":4.5,"labelFont":"DejaVu Sans","labelColor":"#333333","fillColor":"#ffffff","strokeColor":"#d0d0d0","padding":2.5,"rowPadding":2,"cornerRadius":2}}}},
{"transform":[{"filter":"datum.k=='ax'"},{"calculate":"indexof(['12','4','5','6','7','8','9','10','11'],datum.a)*40*PI/180","as":"t"},{"calculate":"2.4*sin(datum.t)","as":"x"},{"calculate":"2.4*cos(datum.t)","as":"y"}],"mark":{"type":"text","font":"Liberation Serif","fontSize":10.5,"color":"#222222","align":"center","baseline":"middle"},"encoding":{"text":{"field":"a"}}}
]}
]
}
